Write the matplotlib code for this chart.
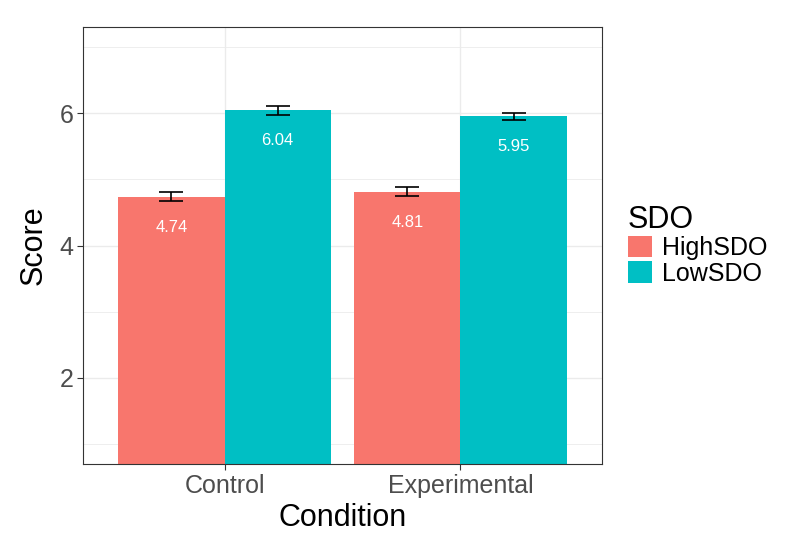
import matplotlib
matplotlib.use("Agg")
import matplotlib.pyplot as plt
import numpy as np
from matplotlib.patches import Patch

plt.rcParams['font.family'] = ['Liberation Sans', 'DejaVu Sans']

conditions = ["Control", "Experimental"]
groups = ["HighSDO", "LowSDO"]
high_vals = [4.74, 4.81]
low_vals = [6.04, 5.95]
high_err = [0.068, 0.068]
low_err = [0.065, 0.057]
colors = {"HighSDO": "#F8766D", "LowSDO": "#00BFC4"}
yticks = [2, 4, 6]

fig = plt.figure(figsize=(8, 5.55), dpi=100)
ax = fig.add_axes([83/800, 1-464/555, (602-83)/800, (464-27)/555])

x = np.arange(1, len(conditions)+1)
bw = 0.45
series = [("HighSDO", high_vals, high_err, -bw/2), ("LowSDO", low_vals, low_err, bw/2)]
for name, vals, errs, off in series:
    xs = x + off
    ax.bar(xs, vals, width=bw, color=colors[name], zorder=2, label=name)
    ax.errorbar(xs, vals, yerr=errs, fmt='none', ecolor='black', elinewidth=1.2,
                capsize=8.7, capthick=1.2, zorder=3)
    for xi, v in zip(xs, vals):
        ax.annotate(f"{v:.2f}", (xi, v), xytext=(0, -22), textcoords='offset points',
                    ha='center', va='center', color='white', fontsize=12, zorder=4)

ax.set_xlim(0.4, 2.6)
ax.set_ylim(0.7, 7.3)
ax.set_xticks(x)
ax.set_xticklabels(conditions)
ax.set_yticks(yticks)
ax.set_yticks([1, 3, 5, 7], minor=True)
ax.grid(True, which='major', color='#EBEBEB', linewidth=1.0, zorder=0)
ax.grid(True, which='minor', axis='y', color='#EBEBEB', linewidth=0.6, zorder=0)
ax.set_axisbelow(True)
ax.tick_params(axis='both', which='major', labelsize=18, labelcolor='#4D4D4D',
               color='#333333', length=4, width=0.8, pad=3)
ax.tick_params(axis='both', which='minor', length=0)
for s in ax.spines.values():
    s.set_color('#333333')
    s.set_linewidth(0.8)
ax.set_xlabel("Condition", fontsize=22, labelpad=4)
ax.set_ylabel("Score", fontsize=22, labelpad=8)

handles = [Patch(facecolor=colors[g], edgecolor='none') for g in groups]
leg = fig.legend(handles, groups, title="SDO", loc='upper left',
                 bbox_to_anchor=(620/800, 1-197/555), frameon=False,
                 fontsize=18, title_fontsize=22, handlelength=0.96, handleheight=0.96,
                 handletextpad=0.4, labelspacing=0.05, borderaxespad=0, borderpad=0.3)
leg._legend_box.align = "left"

fig.savefig("out.png", dpi=100, facecolor='white')
